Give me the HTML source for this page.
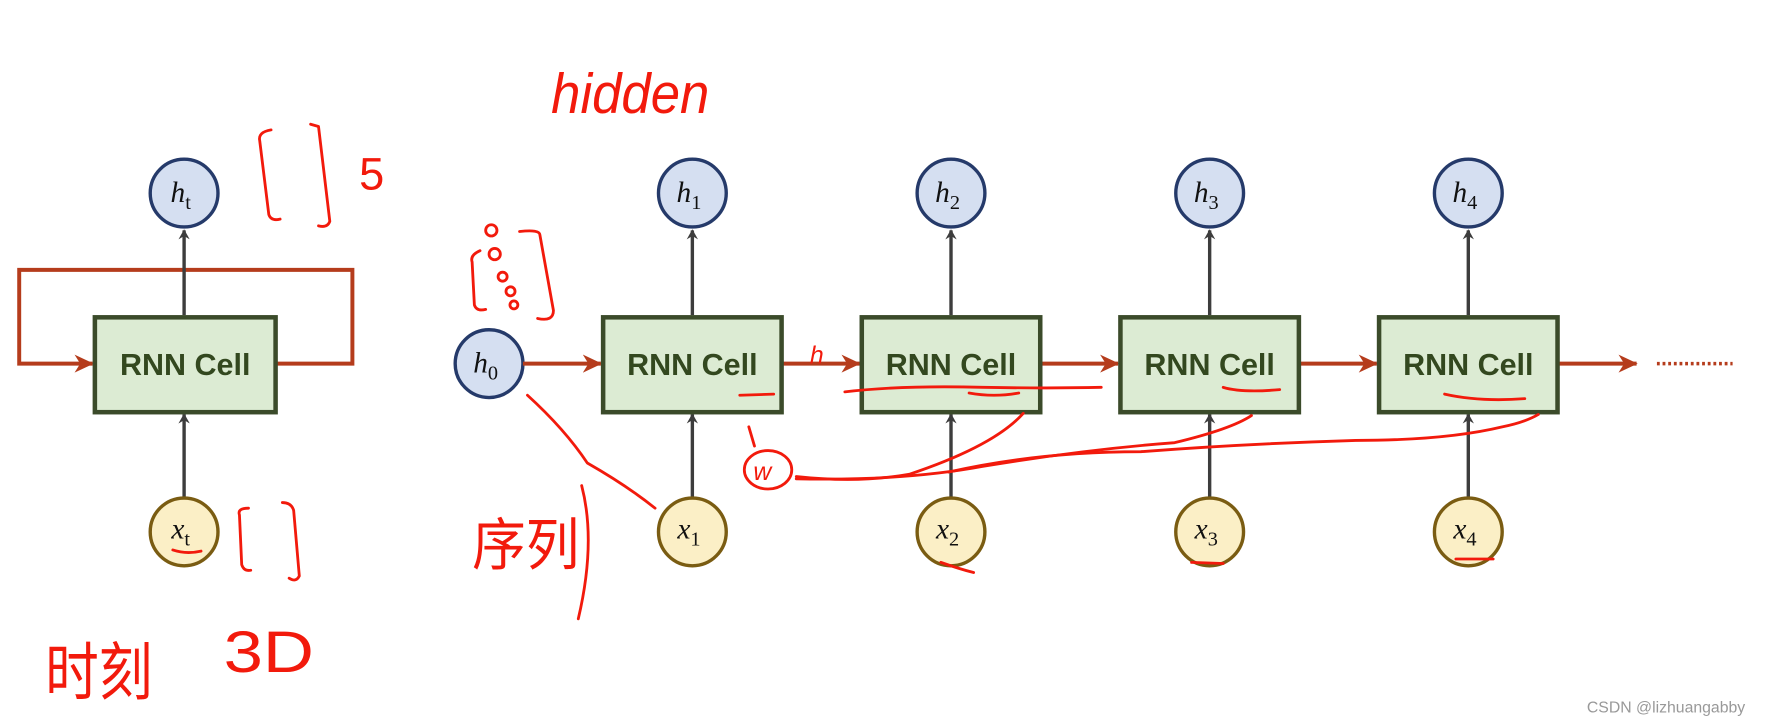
<!DOCTYPE html>
<html><head><meta charset="utf-8"><style>
html,body{margin:0;padding:0;background:#fff;width:1771px;height:725px;overflow:hidden}
svg{display:block}
.cell{fill:#dceBd3;stroke:#3b4b2a;stroke-width:4}
.ct{font-family:"Liberation Sans",sans-serif;font-weight:bold;font-size:27px;fill:#33481f;text-anchor:middle}
.hc{fill:#d5dff1;stroke:#253a6a;stroke-width:3}
.xc{fill:#fbefc6;stroke:#7a5c12;stroke-width:3}
.v{font-family:"Liberation Serif",serif;font-style:italic;font-size:26px;fill:#111;text-anchor:middle}
.s{font-style:normal;font-size:18px}
.g{stroke:#3d3d3d;stroke-width:3;fill:none}
.r{stroke:#b53c1c;stroke-width:3.5;fill:none}
.p{stroke:#f21a0c;stroke-width:2.5;fill:none;stroke-linecap:round;stroke-linejoin:round}
.pt{font-family:"Liberation Sans","Noto Sans CJK SC",sans-serif;fill:#f21a0c}
</style></head><body>
<svg width="1771" height="725" viewBox="0 0 1568 642" preserveAspectRatio="none">
<defs>
<marker id="ag" markerWidth="10" markerHeight="10" refX="8" refY="5" orient="auto" markerUnits="userSpaceOnUse"><path d="M0,0 L9,5 L0,10 L3,5z" fill="#3d3d3d"/></marker>
<marker id="ar" markerWidth="18" markerHeight="18" refX="16" refY="9" orient="auto" markerUnits="userSpaceOnUse"><path d="M0,1 L17,9 L0,17 L5,9z" fill="#b53c1c"/></marker>
</defs>
<!-- left folded -->
<path class="r" d="M163,239 H312 V322 H244"/>
<path class="r" d="M163,239 H17 V322 H82" marker-end="url(#ar)"/>
<line class="g" x1="163" y1="279" x2="163" y2="204" marker-end="url(#ag)"/>
<line class="g" x1="163" y1="440" x2="163" y2="367" marker-end="url(#ag)"/>
<rect class="cell" x="84" y="281" width="160" height="84"/>
<text class="ct" x="164" y="332">RNN Cell</text>
<circle class="hc" cx="163" cy="171" r="30"/><text class="v" x="160" y="179">h<tspan class="s" dy="6">t</tspan></text>
<circle class="xc" cx="163" cy="471" r="30"/><text class="v" x="160" y="477">x<tspan class="s" dy="6">t</tspan></text>
<!-- unrolled -->
<circle class="hc" cx="433" cy="322" r="30"/><text class="v" x="430" y="330">h<tspan class="s" dy="6">0</tspan></text>
<line class="r" x1="463" y1="322" x2="532" y2="322" marker-end="url(#ar)"/>
<line class="r" x1="692" y1="322" x2="761" y2="322" marker-end="url(#ar)"/>
<line class="r" x1="921" y1="322" x2="990" y2="322" marker-end="url(#ar)"/>
<line class="r" x1="1150" y1="322" x2="1219" y2="322" marker-end="url(#ar)"/>
<line class="r" x1="1379" y1="322" x2="1449" y2="322" marker-end="url(#ar)"/>
<line x1="1467" y1="322" x2="1534" y2="322" stroke="#b53c1c" stroke-width="3" stroke-dasharray="2.5,2.5"/>
<g>
<line class="g" x1="613" y1="279" x2="613" y2="204" marker-end="url(#ag)"/><line class="g" x1="613" y1="440" x2="613" y2="367" marker-end="url(#ag)"/>
<rect class="cell" x="534" y="281" width="158" height="84"/><text class="ct" x="613" y="332">RNN Cell</text>
<circle class="hc" cx="613" cy="171" r="30"/><text class="v" x="610" y="179">h<tspan class="s" dy="6">1</tspan></text>
<circle class="xc" cx="613" cy="471" r="30"/><text class="v" x="610" y="477">x<tspan class="s" dy="6">1</tspan></text>
</g>
<g>
<line class="g" x1="842" y1="279" x2="842" y2="204" marker-end="url(#ag)"/><line class="g" x1="842" y1="440" x2="842" y2="367" marker-end="url(#ag)"/>
<rect class="cell" x="763" y="281" width="158" height="84"/><text class="ct" x="842" y="332">RNN Cell</text>
<circle class="hc" cx="842" cy="171" r="30"/><text class="v" x="839" y="179">h<tspan class="s" dy="6">2</tspan></text>
<circle class="xc" cx="842" cy="471" r="30"/><text class="v" x="839" y="477">x<tspan class="s" dy="6">2</tspan></text>
</g>
<g>
<line class="g" x1="1071" y1="279" x2="1071" y2="204" marker-end="url(#ag)"/><line class="g" x1="1071" y1="440" x2="1071" y2="367" marker-end="url(#ag)"/>
<rect class="cell" x="992" y="281" width="158" height="84"/><text class="ct" x="1071" y="332">RNN Cell</text>
<circle class="hc" cx="1071" cy="171" r="30"/><text class="v" x="1068" y="179">h<tspan class="s" dy="6">3</tspan></text>
<circle class="xc" cx="1071" cy="471" r="30"/><text class="v" x="1068" y="477">x<tspan class="s" dy="6">3</tspan></text>
</g>
<g>
<line class="g" x1="1300" y1="279" x2="1300" y2="204" marker-end="url(#ag)"/><line class="g" x1="1300" y1="440" x2="1300" y2="367" marker-end="url(#ag)"/>
<rect class="cell" x="1221" y="281" width="158" height="84"/><text class="ct" x="1300" y="332">RNN Cell</text>
<circle class="hc" cx="1300" cy="171" r="30"/><text class="v" x="1297" y="179">h<tspan class="s" dy="6">4</tspan></text>
<circle class="xc" cx="1300" cy="471" r="30"/><text class="v" x="1297" y="477">x<tspan class="s" dy="6">4</tspan></text>
</g>
<!-- annotations -->
<text class="pt" x="488" y="100" font-size="50" font-style="italic" textLength="140" lengthAdjust="spacingAndGlyphs">hidden</text>
<path class="p" d="M240,115 Q228,117 230,125 L238,190 Q240,196 248,194"/>
<path class="p" d="M275,110 L282,112 L292,196 Q290,202 282,200"/>
<text class="pt" x="318" y="168" font-size="40">5</text>
<path class="p" d="M425,222 Q416,226 418,232 L420,270 Q422,276 430,274"/>
<path class="p" d="M460,205 Q478,203 478,208 L490,275 Q490,285 476,282"/>
<circle class="p" cx="435" cy="204" r="5"/><circle class="p" cx="438" cy="225" r="5"/><circle class="p" cx="445" cy="245" r="4"/><circle class="p" cx="452" cy="258" r="4"/><circle class="p" cx="455" cy="270" r="3.5"/>
<path class="p" d="M220,450 Q210,450 212,456 L214,500 Q216,506 222,505"/>
<path class="p" d="M250,445 Q258,445 260,452 L265,510 Q262,516 256,512"/>
<path class="p" d="M153,487 Q165,491 178,488" stroke-width="3"/>
<path class="p" d="M655,350 L685,349" stroke-width="3"/>
<path class="p" d="M858,348 Q880,352 902,348" stroke-width="3"/>
<path class="p" d="M1083,343 Q1100,348 1133,345" stroke-width="3"/>
<path class="p" d="M1279,349 Q1310,356 1350,353" stroke-width="3"/>
<path class="p" d="M748,347 Q800,341 870,343 Q930,344 975,343" stroke-width="1.5"/>
<path class="p" d="M833,498 Q850,504 862,507" stroke-width="3"/>
<path class="p" d="M1055,498 L1083,499" stroke-width="3"/>
<path class="p" d="M1289,495 L1322,495" stroke-width="3"/>
<text class="pt" x="717" y="322" font-size="22" font-style="italic">h</text>
<path class="p" d="M467,350 Q500,380 520,410 Q555,430 580,450" stroke-width="1.5"/>
<text class="pt" x="418" y="500" font-size="50" textLength="95" lengthAdjust="spacingAndGlyphs">序列</text>
<path class="p" d="M515,430 Q528,480 512,548"/>
<ellipse class="p" cx="680" cy="416" rx="21" ry="17"/>
<text class="pt" x="667" y="425" font-size="22" font-style="italic">w</text>
<path class="p" d="M663,378 L668,395"/>
<path class="p" d="M705,422 Q760,428 805,420 Q880,395 906,366" stroke-width="3"/>
<path class="p" d="M705,424 Q800,426 870,413 Q960,398 1040,392 Q1090,380 1108,368" stroke-width="3"/>
<path class="p" d="M840,418 Q920,400 1010,400 Q1100,393 1200,390 Q1280,390 1330,378 Q1350,374 1362,367" stroke-width="3"/>
<text class="pt" x="40" y="615" font-size="56" textLength="95" lengthAdjust="spacingAndGlyphs">时刻</text>
<text class="pt" x="198" y="595" font-size="52" textLength="80" lengthAdjust="spacingAndGlyphs">3D</text>
<text x="1405" y="631" font-family="Liberation Sans,sans-serif" font-size="14" fill="#999">CSDN @lizhuangabby</text>
</svg>
</body></html>
